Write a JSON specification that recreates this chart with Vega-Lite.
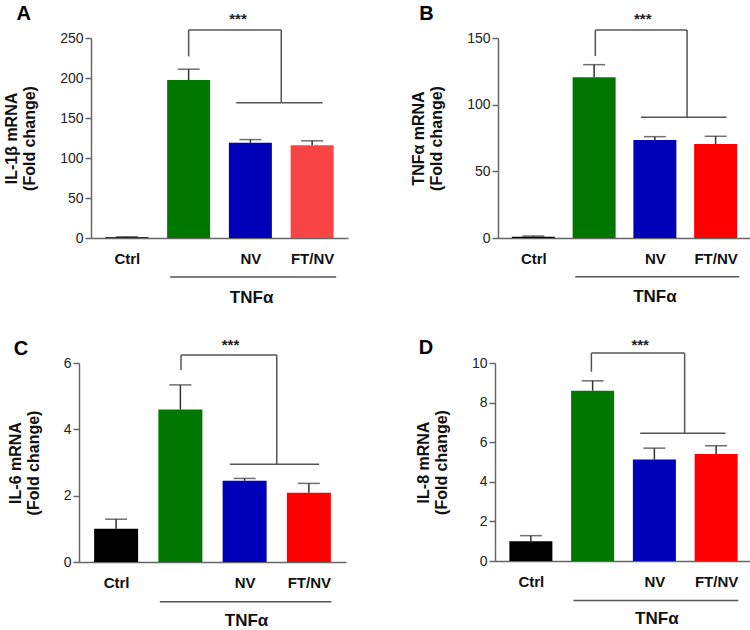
{
  "$schema": "https://vega.github.io/schema/vega-lite/v6.json",
  "padding": {"left": 3, "top": 3, "right": 0, "bottom": 0},
  "background": "white",
  "config": {
    "font": "Liberation Sans",
    "view": {"stroke": null},
    "text": {"align": "center", "baseline": "middle"},
    "axisX": {"ticks": false, "grid": false, "title": null, "labelFontSize": 15, "labelFontWeight": "bold", "labelColor": "#111", "labelPadding": 13, "labelFlush": false, "labelOverlap": false, "domainColor": "#666", "domainWidth": 1.5},
    "axisY": {"grid": false, "tickSize": 6, "labelPadding": 2, "labelFontSize": 14, "labelColor": "#222", "labelOverlap": false, "titleFontSize": 16, "titleFontWeight": "bold", "titleColor": "#111", "titlePadding": 22, "titleLineHeight": 18, "domainColor": "#666", "tickColor": "#666", "domainWidth": 1.5, "tickWidth": 1.5}
  },
  "datasets": {
    "barsA": [
      {"group": "Ctrl", "pos": 0.5, "mean": 1, "upper": 1.5},
      {"group": "TNFα", "pos": 1.5, "mean": 197.5, "upper": 211},
      {"group": "NV", "pos": 2.5, "mean": 119, "upper": 123},
      {"group": "FT/NV", "pos": 3.5, "mean": 116, "upper": 121.5}
    ],
    "barsB": [
      {"group": "Ctrl", "pos": 0.5, "mean": 1, "upper": 1.5},
      {"group": "TNFα", "pos": 1.5, "mean": 120.5, "upper": 130},
      {"group": "NV", "pos": 2.5, "mean": 73.5, "upper": 76},
      {"group": "FT/NV", "pos": 3.5, "mean": 70.5, "upper": 76.3}
    ],
    "barsC": [
      {"group": "Ctrl", "pos": 0.5, "mean": 1.0, "upper": 1.29},
      {"group": "TNFα", "pos": 1.5, "mean": 4.6, "upper": 5.34},
      {"group": "NV", "pos": 2.5, "mean": 2.45, "upper": 2.52},
      {"group": "FT/NV", "pos": 3.5, "mean": 2.09, "upper": 2.37}
    ],
    "barsD": [
      {"group": "Ctrl", "pos": 0.5, "mean": 1.0, "upper": 1.28},
      {"group": "TNFα", "pos": 1.5, "mean": 8.6, "upper": 9.1},
      {"group": "NV", "pos": 2.5, "mean": 5.12, "upper": 5.7},
      {"group": "FT/NV", "pos": 3.5, "mean": 5.4, "upper": 5.82}
    ],
    "segA": [
      {"kind": "bracket", "x": 1.5, "x2": 1.5, "y": 227, "y2": 260},
      {"kind": "bracket", "x": 1.5, "x2": 3.0, "y": 260, "y2": 260},
      {"kind": "bracket", "x": 3.0, "x2": 3.0, "y": 169, "y2": 260},
      {"kind": "bracket", "x": 2.27, "x2": 3.67, "y": 169, "y2": 169},
      {"kind": "group", "x": 1.2, "x2": 3.89, "y": -48.75, "y2": -48.75}
    ],
    "segB": [
      {"kind": "bracket", "x": 1.52, "x2": 1.52, "y": 136.5, "y2": 156},
      {"kind": "bracket", "x": 1.52, "x2": 3.03, "y": 156, "y2": 156},
      {"kind": "bracket", "x": 3.03, "x2": 3.03, "y": 90.5, "y2": 156},
      {"kind": "bracket", "x": 2.27, "x2": 3.68, "y": 90.5, "y2": 90.5},
      {"kind": "group", "x": 1.19, "x2": 3.89, "y": -29, "y2": -29}
    ],
    "segC": [
      {"kind": "bracket", "x": 1.51, "x2": 1.51, "y": 5.79, "y2": 6.24},
      {"kind": "bracket", "x": 1.51, "x2": 3.0, "y": 6.24, "y2": 6.24},
      {"kind": "bracket", "x": 3.0, "x2": 3.0, "y": 2.95, "y2": 6.24},
      {"kind": "bracket", "x": 2.27, "x2": 3.66, "y": 2.95, "y2": 2.95},
      {"kind": "group", "x": 1.18, "x2": 3.85, "y": -1.2, "y2": -1.2}
    ],
    "segD": [
      {"kind": "bracket", "x": 1.48, "x2": 1.48, "y": 9.56, "y2": 10.5},
      {"kind": "bracket", "x": 1.48, "x2": 2.99, "y": 10.5, "y2": 10.5},
      {"kind": "bracket", "x": 2.99, "x2": 2.99, "y": 6.45, "y2": 10.5},
      {"kind": "bracket", "x": 2.27, "x2": 3.65, "y": 6.45, "y2": 6.45},
      {"kind": "group", "x": 1.19, "x2": 3.86, "y": -2.0, "y2": -2.0}
    ],
    "txtA": [
      {"kind": "letter", "label": "A", "x": -1.17, "y": 280},
      {"kind": "stars", "label": "***", "x": 2.3, "y": 274},
      {"kind": "group", "label": "TNFα", "x": 2.52, "y": -74.4}
    ],
    "txtB": [
      {"kind": "letter", "label": "B", "x": -1.26, "y": 168},
      {"kind": "stars", "label": "***", "x": 2.3, "y": 164.6},
      {"kind": "group", "label": "TNFα", "x": 2.5, "y": -44.6}
    ],
    "txtC": [
      {"kind": "letter", "label": "C", "x": -0.98, "y": 6.42},
      {"kind": "stars", "label": "***", "x": 2.28, "y": 6.53},
      {"kind": "group", "label": "TNFα", "x": 2.53, "y": -1.78}
    ],
    "txtD": [
      {"kind": "letter", "label": "D", "x": -1.2, "y": 10.76},
      {"kind": "stars", "label": "***", "x": 2.27, "y": 10.93},
      {"kind": "group", "label": "TNFα", "x": 2.54, "y": -2.95}
    ]
  },
  "spacing": 31,
  "vconcat": [
    {
      "spacing": 62,
      "hconcat": [
        {
          "width": 257, "height": 200,
          "encoding": {
            "x": {"type": "quantitative", "scale": {"domain": [0, 4]}, "axis": {"values": [0.5, 1.5, 2.5, 3.5], "labelExpr": "datum.value == 0.5 ? 'Ctrl' : datum.value == 2.5 ? 'NV' : datum.value == 3.5 ? 'FT/NV' : ''", "title": null}},
            "y": {"type": "quantitative", "scale": {"domain": [0, 250]}, "axis": {"values": [0, 50, 100, 150, 200, 250], "title": ["IL-1β mRNA", "(Fold change)"]}}
          },
          "layer": [
            {"data": {"name": "barsA"}, "mark": {"type": "rule", "color": "#333", "strokeWidth": 1.5},
             "encoding": {"x": {"field": "pos"}, "y": {"field": "mean"}, "y2": {"field": "upper"}}},
            {"data": {"name": "barsA"}, "mark": {"type": "tick", "orient": "horizontal", "color": "#333", "size": 22, "thickness": 1.5},
             "encoding": {"x": {"field": "pos"}, "y": {"field": "upper"}}},
            {"data": {"name": "barsA"}, "mark": {"type": "bar", "orient": "vertical", "size": 43},
             "encoding": {"x": {"field": "pos"}, "y": {"field": "mean"},
                          "color": {"field": "group", "type": "nominal", "scale": {"domain": ["Ctrl", "TNFα", "NV", "FT/NV"], "range": ["#000000", "#007800", "#0000b8", "#f84444"]}, "legend": null}}},
            {"data": {"name": "segA"}, "mark": {"type": "rule", "color": "#555", "strokeWidth": 1.5},
             "encoding": {"x": {"field": "x"}, "x2": {"field": "x2"}, "y": {"field": "y"}, "y2": {"field": "y2"}}},
            {"data": {"name": "txtA"}, "transform": [{"filter": "datum.kind == 'letter'"}], "mark": {"type": "text", "fontSize": 20, "fontWeight": "bold", "color": "#000"},
             "encoding": {"x": {"field": "x"}, "y": {"field": "y"}, "text": {"field": "label"}}},
            {"data": {"name": "txtA"}, "transform": [{"filter": "datum.kind == 'stars'"}], "mark": {"type": "text", "fontSize": 15, "fontWeight": "bold", "color": "#222"},
             "encoding": {"x": {"field": "x"}, "y": {"field": "y"}, "text": {"field": "label"}}},
            {"data": {"name": "txtA"}, "transform": [{"filter": "datum.kind == 'group'"}], "mark": {"type": "text", "fontSize": 17, "fontWeight": "bold", "color": "#111"},
             "encoding": {"x": {"field": "x"}, "y": {"field": "y"}, "text": {"field": "label"}}}
          ]
        },
        {
          "width": 253, "height": 200,
          "encoding": {
            "x": {"type": "quantitative", "scale": {"domain": [0, 4]}, "axis": {"values": [0.5, 1.5, 2.5, 3.5], "labelExpr": "datum.value == 0.5 ? 'Ctrl' : datum.value == 2.5 ? 'NV' : datum.value == 3.5 ? 'FT/NV' : ''", "title": null}},
            "y": {"type": "quantitative", "scale": {"domain": [0, 150]}, "axis": {"values": [0, 50, 100, 150], "title": ["TNFα mRNA", "(Fold change)"]}}
          },
          "layer": [
            {"data": {"name": "barsB"}, "mark": {"type": "rule", "color": "#333", "strokeWidth": 1.5},
             "encoding": {"x": {"field": "pos"}, "y": {"field": "mean"}, "y2": {"field": "upper"}}},
            {"data": {"name": "barsB"}, "mark": {"type": "tick", "orient": "horizontal", "color": "#333", "size": 22, "thickness": 1.5},
             "encoding": {"x": {"field": "pos"}, "y": {"field": "upper"}}},
            {"data": {"name": "barsB"}, "mark": {"type": "bar", "orient": "vertical", "size": 43},
             "encoding": {"x": {"field": "pos"}, "y": {"field": "mean"},
                          "color": {"field": "group", "type": "nominal", "scale": {"domain": ["Ctrl", "TNFα", "NV", "FT/NV"], "range": ["#000000", "#007800", "#0000b8", "#ff0000"]}, "legend": null}}},
            {"data": {"name": "segB"}, "mark": {"type": "rule", "color": "#555", "strokeWidth": 1.5},
             "encoding": {"x": {"field": "x"}, "x2": {"field": "x2"}, "y": {"field": "y"}, "y2": {"field": "y2"}}},
            {"data": {"name": "txtB"}, "transform": [{"filter": "datum.kind == 'letter'"}], "mark": {"type": "text", "fontSize": 20, "fontWeight": "bold", "color": "#000"},
             "encoding": {"x": {"field": "x"}, "y": {"field": "y"}, "text": {"field": "label"}}},
            {"data": {"name": "txtB"}, "transform": [{"filter": "datum.kind == 'stars'"}], "mark": {"type": "text", "fontSize": 15, "fontWeight": "bold", "color": "#222"},
             "encoding": {"x": {"field": "x"}, "y": {"field": "y"}, "text": {"field": "label"}}},
            {"data": {"name": "txtB"}, "transform": [{"filter": "datum.kind == 'group'"}], "mark": {"type": "text", "fontSize": 17, "fontWeight": "bold", "color": "#111"},
             "encoding": {"x": {"field": "x"}, "y": {"field": "y"}, "text": {"field": "label"}}}
          ]
        }
      ],
      "resolve": {"scale": {"color": "independent"}}
    },
    {
      "spacing": 57,
      "hconcat": [
        {
          "width": 255, "height": 199,
          "encoding": {
            "x": {"type": "quantitative", "scale": {"domain": [0, 4], "range": [-12, 255]}, "axis": {"values": [0.5, 1.5, 2.5, 3.5], "labelExpr": "datum.value == 0.5 ? 'Ctrl' : datum.value == 2.5 ? 'NV' : datum.value == 3.5 ? 'FT/NV' : ''", "title": null}},
            "y": {"type": "quantitative", "scale": {"domain": [0, 6]}, "axis": {"values": [0, 2, 4, 6], "offset": 12, "title": ["IL-6 mRNA", "(Fold change)"]}}
          },
          "layer": [
            {"data": {"name": "barsC"}, "mark": {"type": "rule", "color": "#333", "strokeWidth": 1.5},
             "encoding": {"x": {"field": "pos"}, "y": {"field": "mean"}, "y2": {"field": "upper"}}},
            {"data": {"name": "barsC"}, "mark": {"type": "tick", "orient": "horizontal", "color": "#333", "size": 22, "thickness": 1.5},
             "encoding": {"x": {"field": "pos"}, "y": {"field": "upper"}}},
            {"data": {"name": "barsC"}, "mark": {"type": "bar", "orient": "vertical", "size": 44},
             "encoding": {"x": {"field": "pos"}, "y": {"field": "mean"},
                          "color": {"field": "group", "type": "nominal", "scale": {"domain": ["Ctrl", "TNFα", "NV", "FT/NV"], "range": ["#000000", "#007800", "#0000b8", "#ff0000"]}, "legend": null}}},
            {"data": {"name": "segC"}, "mark": {"type": "rule", "color": "#555", "strokeWidth": 1.5},
             "encoding": {"x": {"field": "x"}, "x2": {"field": "x2"}, "y": {"field": "y"}, "y2": {"field": "y2"}}},
            {"data": {"name": "txtC"}, "transform": [{"filter": "datum.kind == 'letter'"}], "mark": {"type": "text", "fontSize": 20, "fontWeight": "bold", "color": "#000"},
             "encoding": {"x": {"field": "x"}, "y": {"field": "y"}, "text": {"field": "label"}}},
            {"data": {"name": "txtC"}, "transform": [{"filter": "datum.kind == 'stars'"}], "mark": {"type": "text", "fontSize": 15, "fontWeight": "bold", "color": "#222"},
             "encoding": {"x": {"field": "x"}, "y": {"field": "y"}, "text": {"field": "label"}}},
            {"data": {"name": "txtC"}, "transform": [{"filter": "datum.kind == 'group'"}], "mark": {"type": "text", "fontSize": 17, "fontWeight": "bold", "color": "#111"},
             "encoding": {"x": {"field": "x"}, "y": {"field": "y"}, "text": {"field": "label"}}}
          ]
        },
        {
          "width": 257, "height": 198,
          "encoding": {
            "x": {"type": "quantitative", "scale": {"domain": [0, 4]}, "axis": {"values": [0.5, 1.5, 2.5, 3.5], "labelExpr": "datum.value == 0.5 ? 'Ctrl' : datum.value == 2.5 ? 'NV' : datum.value == 3.5 ? 'FT/NV' : ''", "title": null}},
            "y": {"type": "quantitative", "scale": {"domain": [0, 10]}, "axis": {"values": [0, 2, 4, 6, 8, 10], "title": ["IL-8 mRNA", "(Fold change)"]}}
          },
          "layer": [
            {"data": {"name": "barsD"}, "mark": {"type": "rule", "color": "#333", "strokeWidth": 1.5},
             "encoding": {"x": {"field": "pos"}, "y": {"field": "mean"}, "y2": {"field": "upper"}}},
            {"data": {"name": "barsD"}, "mark": {"type": "tick", "orient": "horizontal", "color": "#333", "size": 22, "thickness": 1.5},
             "encoding": {"x": {"field": "pos"}, "y": {"field": "upper"}}},
            {"data": {"name": "barsD"}, "mark": {"type": "bar", "orient": "vertical", "size": 43},
             "encoding": {"x": {"field": "pos"}, "y": {"field": "mean"},
                          "color": {"field": "group", "type": "nominal", "scale": {"domain": ["Ctrl", "TNFα", "NV", "FT/NV"], "range": ["#000000", "#007800", "#0000b8", "#ff0000"]}, "legend": null}}},
            {"data": {"name": "segD"}, "mark": {"type": "rule", "color": "#555", "strokeWidth": 1.5},
             "encoding": {"x": {"field": "x"}, "x2": {"field": "x2"}, "y": {"field": "y"}, "y2": {"field": "y2"}}},
            {"data": {"name": "txtD"}, "transform": [{"filter": "datum.kind == 'letter'"}], "mark": {"type": "text", "fontSize": 20, "fontWeight": "bold", "color": "#000"},
             "encoding": {"x": {"field": "x"}, "y": {"field": "y"}, "text": {"field": "label"}}},
            {"data": {"name": "txtD"}, "transform": [{"filter": "datum.kind == 'stars'"}], "mark": {"type": "text", "fontSize": 15, "fontWeight": "bold", "color": "#222"},
             "encoding": {"x": {"field": "x"}, "y": {"field": "y"}, "text": {"field": "label"}}},
            {"data": {"name": "txtD"}, "transform": [{"filter": "datum.kind == 'group'"}], "mark": {"type": "text", "fontSize": 17, "fontWeight": "bold", "color": "#111"},
             "encoding": {"x": {"field": "x"}, "y": {"field": "y"}, "text": {"field": "label"}}}
          ]
        }
      ],
      "resolve": {"scale": {"color": "independent"}}
    }
  ]
}
